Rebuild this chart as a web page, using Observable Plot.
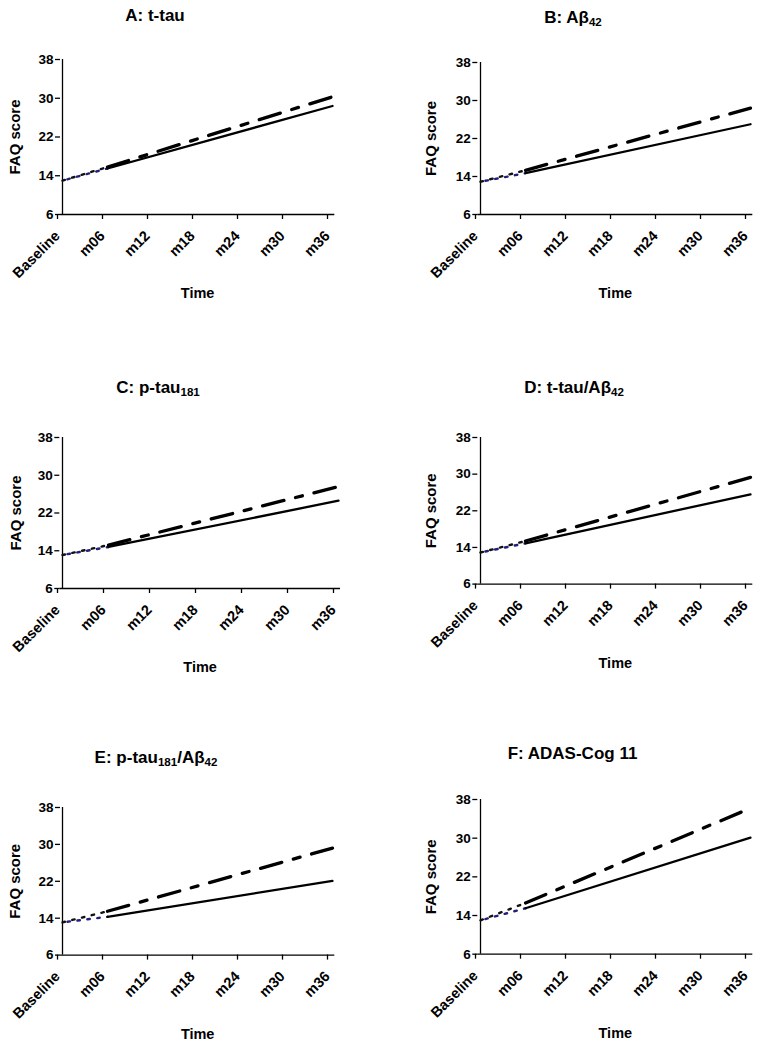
<!DOCTYPE html>
<html>
<head>
<meta charset="utf-8">
<script src="https://cdn.jsdelivr.net/npm/d3@7"></script>
<script src="https://cdn.jsdelivr.net/npm/@observablehq/plot@0.6"></script>
<style>
  html, body { margin: 0; padding: 0; background: #fff; }
  #root { position: relative; width: 761px; height: 1045px; overflow: hidden; font-family: "Liberation Sans", Arial, sans-serif; }
  .title { position: absolute; font-weight: bold; font-size: 17px; line-height: 1; white-space: nowrap; transform: translate(-50%, -50%); color: #000; }
  .title sub { font-size: 0.68em; vertical-align: -0.3em; line-height: 0; }
  .panel { position: absolute; }
</style>
</head>
<body>
<div id="root"></div>
<script>
// ---- data ----
const times = ["Baseline", "m06", "m12", "m18", "m24", "m30", "m36"];
const yTicks = [6, 14, 22, 30, 38];
const panelIds = ["A", "B", "C", "D", "E", "F"];
const titles = [
  "A: t-tau",
  "B: Aβ<sub>42</sub>",
  "C: p-tau<sub>181</sub>",
  "D: t-tau/Aβ<sub>42</sub>",
  "E: p-tau<sub>181</sub>/Aβ<sub>42</sub>",
  "F: ADAS-Cog 11"
];
const baselineScore = [13.0, 12.9, 13.1, 12.9, 13.1, 13.0];
const solidM06 = [15.5, 14.7, 14.8, 14.9, 14.3, 15.5];
const solidM36 = [28.4, 25.0, 24.6, 25.6, 22.1, 30.1];
const dashM06  = [15.8, 15.3, 15.2, 15.4, 15.5, 16.6];
const dashM36  = [30.3, 28.4, 27.6, 29.3, 29.2, 36.2];
const xLabel = "Time";
const yLabel = "FAQ score";

// ---- layout (page pixels) ----
const geom = {
  A: {left: 0,   w: 380, x0: 60,    x1: 334.3, yTop: 59,    yBot: 214,   tx: 155,   ty: 15,  ydx: -45},
  B: {left: 380, w: 381, x0: 477.3, x1: 752.3, yTop: 61.7,  yBot: 213.7, tx: 573,   ty: 17,  ydx: -47},
  C: {left: 0,   w: 380, x0: 59.3,  x1: 340,   yTop: 436.7, yBot: 587.7, tx: 158,   ty: 387, ydx: -44},
  D: {left: 380, w: 381, x0: 477.3, x1: 752.3, yTop: 436.7, yBot: 583.3, tx: 574,   ty: 387, ydx: -47},
  E: {left: 0,   w: 380, x0: 60,    x1: 334.3, yTop: 806.7, yBot: 954.3, tx: 156,   ty: 757, ydx: -45},
  F: {left: 380, w: 381, x0: 477.3, x1: 752.3, yTop: 799.3, yBot: 954,   tx: 572.5, ty: 753, ydx: -47}
};

const root = document.getElementById("root");

panelIds.forEach((id, i) => {
  const g = geom[id];
  const top = g.yTop - 15;
  const height = (g.yBot - g.yTop) + 15 + 90;

  const dottedSolid = [
    {t: times[0], v: baselineScore[i]},
    {t: times[1], v: solidM06[i]}
  ];
  const dottedDash = [
    {t: times[0], v: baselineScore[i]},
    {t: times[1], v: dashM06[i]}
  ];
  const solid = [
    {t: times[1], v: solidM06[i]},
    {t: times[6], v: solidM36[i]}
  ];
  const dash = [
    {t: times[1], v: dashM06[i]},
    {t: times[6], v: dashM36[i]}
  ];

  const plot = Plot.plot({
    width: g.w,
    height: height,
    marginLeft: g.x0 - g.left,
    marginRight: g.left + g.w - g.x1,
    marginTop: g.yTop - top,
    marginBottom: top + height - g.yBot,
    style: {fontFamily: "'Liberation Sans', Arial, sans-serif", fontWeight: "bold", fontSize: "13.5px", color: "#000", background: "transparent", overflow: "visible"},
    x: {type: "point", domain: times, padding: 0},
    y: {domain: [6, 38]},
    marks: [
      Plot.axisY({ticks: yTicks, tickSize: 5, tickPadding: 2, fontSize: 13.5, label: null, strokeWidth: 1.3}),
      Plot.axisX({tickSize: 5, tickPadding: 14, dx: -5, tickRotate: -45, fontSize: 14.5, label: null, strokeWidth: 1.3}),
      Plot.ruleX([times[0]], {stroke: "#000", strokeWidth: 1.3}),
      Plot.ruleY([6], {stroke: "#000", strokeWidth: 1.3}),
      Plot.line(dottedDash, {x: "t", y: "v", stroke: "#111", strokeWidth: 2.4, strokeDasharray: "2.5,7.5"}),
      Plot.line(dottedSolid, {x: "t", y: "v", stroke: "#20207a", strokeWidth: 2.4, strokeDasharray: "2.5,7.5", strokeDashoffset: 5}),
      Plot.line(solid, {x: "t", y: "v", stroke: "#000", strokeWidth: 2.3}),
      Plot.line(dash, {x: "t", y: "v", stroke: "#000", strokeWidth: 3.3, strokeDasharray: "22,12,7,12"}),
      Plot.text([yLabel], {text: d => d, frameAnchor: "left", textAnchor: "middle", lineAnchor: "middle", dx: g.ydx, rotate: -90, fontSize: 15, fontWeight: "bold", fill: "#000"}),
      Plot.text([xLabel], {text: d => d, frameAnchor: "bottom", lineAnchor: "middle", dy: 79, fontSize: 14.5, fontWeight: "bold", fill: "#000"})
    ]
  });
  plot.classList.add("panel");
  plot.style.left = g.left + "px";
  plot.style.top = top + "px";
  plot.style.position = "absolute";
  root.appendChild(plot);

  const t = document.createElement("div");
  t.className = "title";
  t.innerHTML = titles[i];
  t.style.left = g.tx + "px";
  t.style.top = g.ty + "px";
  root.appendChild(t);
});
</script>
</body>
</html>
